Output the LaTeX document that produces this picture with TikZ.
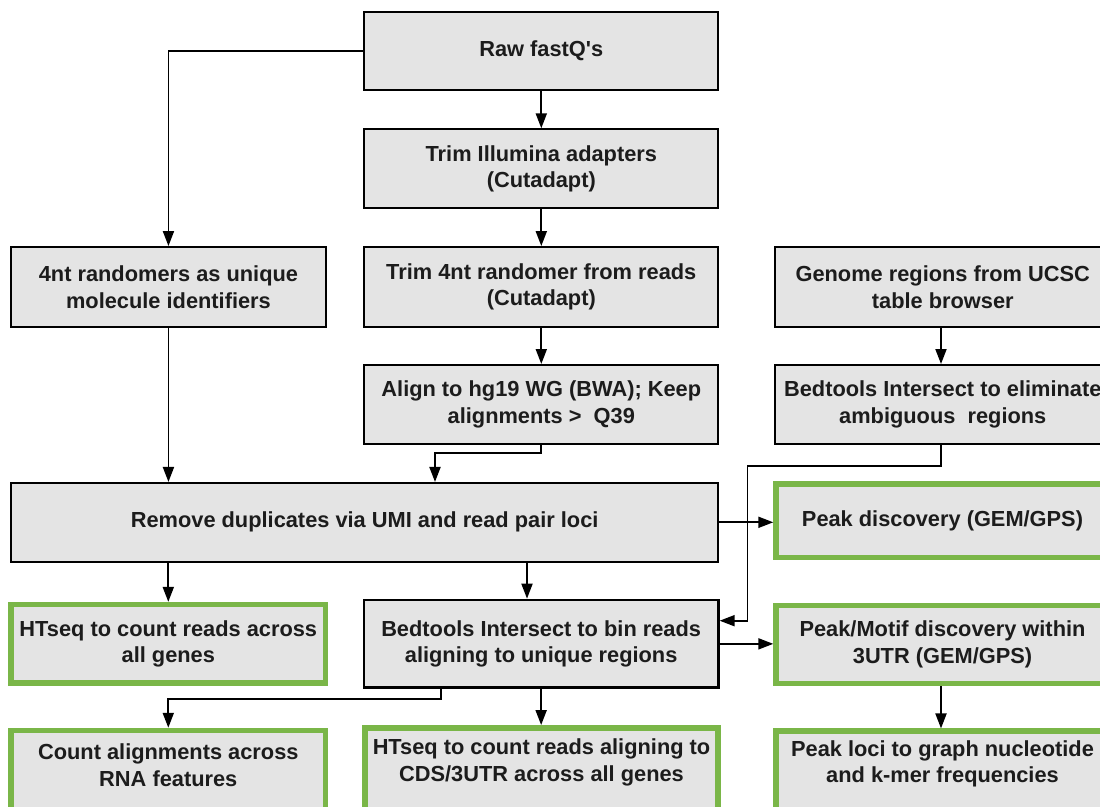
\documentclass[tikz,border=0pt]{standalone}
\usepackage{fontspec}
\setmainfont{Liberation Sans}
\usetikzlibrary{arrows.meta}
\definecolor{boxgrey}{HTML}{E4E4E4}
\definecolor{boxgreen}{HTML}{7AB648}
\definecolor{txt}{HTML}{1C1C1C}
\begin{document}
\begin{tikzpicture}[x=1pt,y=-1pt,
  every node/.style={font=\fontsize{21.8}{26.7}\selectfont\bfseries, text=txt, align=center, inner sep=0pt},
  box/.style={draw=black, fill=boxgrey, line width=2pt, minimum width=354pt, minimum height=79pt},
  gbox/.style={draw=boxgreen, fill=boxgrey, line width=5.5pt, minimum width=332.9pt, minimum height=78.5pt},
  cutbox/.style={gbox, anchor=north, minimum height=100pt},
  conn/.style={draw=black, line width=1.9pt, -{Triangle[length=15pt,width=11pt]}}]
\useasboundingbox (0,0) rectangle (1100,806);
\clip (0,0) rectangle (1100,806);
\fill[white] (0,0) rectangle (1100,806);

\node[box, minimum height=78.3pt] (raw) at (541.3,50.85) {Raw fastQ\textquotesingle s};
\node[box] (trim1) at (541.3,168.8) {Trim Illumina adapters\\(Cutadapt)};
\node[box, minimum width=314.5pt, minimum height=79.7pt] (umi) at (168.45,286.9) {4nt randomers as unique\\molecule identifiers};
\node[box, minimum height=79.7pt] (trim2) at (541.3,286.9) {Trim 4nt randomer from reads\\(Cutadapt)};
\node[box, minimum width=335.5pt, minimum height=79.7pt] (genome) at (942.75,286.9) {Genome regions from UCSC\\table browser};
\node[box] (align) at (541.3,404.5) {Align to hg19 WG (BWA); Keep\\alignments >\ \ Q39};
\node[box, minimum width=335.5pt] (elim) at (942.75,404.5) {Bedtools Intersect to eliminate\\ambiguous\ \ regions};
\node[box, minimum width=707.3pt, minimum height=78.7pt] (remove) at (364.65,522.3) {Remove duplicates via UMI and read pair loci};
\node[gbox, minimum height=73.5pt] (peak) at (942.5,520.5) {Peak discovery (GEM/GPS)};
\node[gbox, minimum width=314.5pt] (htseq1) at (168.3,643.85) {HTseq to count reads across\\all genes};
\node[box, line width=2.7pt, minimum width=354.3pt, minimum height=87.7pt] (bin) at (541.15,643.85) {Bedtools Intersect to bin reads\\aligning to unique regions};
\node[gbox, minimum height=77.8pt] (motif) at (942.5,644.35) {Peak/Motif discovery within\\3UTR (GEM/GPS)};

% bottom row: boxes run past the lower edge of the picture
\node[cutbox, minimum width=314.5pt] (count) at (168.3,727.75) {};
\node (countt) at (168.3,765.3) {Count alignments across\\RNA features};
\node[cutbox, minimum width=352.9pt] (htseq2) at (541.5,725.05) {};
\node (htseq2t) at (541.5,762.3) {HTseq to count reads aligning to\\CDS/3UTR across all genes};
\node[cutbox] (loci) at (942.5,728.45) {};
\node (locit) at (942.5,764) {Peak loci to graph nucleotide\\and k-mer frequencies};

\coordinate (j1) at (435,453.3);
\coordinate (j2) at (747.5,466);
\coordinate (j3) at (747.5,620.7);
\coordinate (j4) at (441,699.3);
\coordinate (c1) at (527,0);
\coordinate (c2) at (941,0);

\draw[conn] (raw.west) -| (umi.north);
\draw[conn] (raw) -- (trim1);
\draw[conn] (trim1) -- (trim2);
\draw[conn] (trim2) -- (align);
\draw[conn] (umi.south) -- (umi.south |- remove.north);
\draw[conn] (align.south) |- (j1) -- (j1 |- remove.north);
\draw[conn] (c2 |- genome.south) -- (c2 |- elim.north);
\draw[conn] (c2 |- elim.south) |- (j2) -- (j3) -- (bin.east |- j3);
\draw[conn] (remove.east) -- (remove.east -| peak.west);
\draw[conn] (htseq1.north |- remove.south) -- (htseq1.north);
\draw[conn] (c1 |- remove.south) -- (c1 |- bin.north);
\draw[conn] (bin.east) -- (bin.east -| motif.west);
\draw[conn] (j4 |- bin.south) -- (j4) -| (count.north);
\draw[conn] (bin.south) -- (bin.south |- htseq2.north);
\draw[conn] (c2 |- motif.south) -- (c2 |- loci.north);
\end{tikzpicture}
\end{document}
